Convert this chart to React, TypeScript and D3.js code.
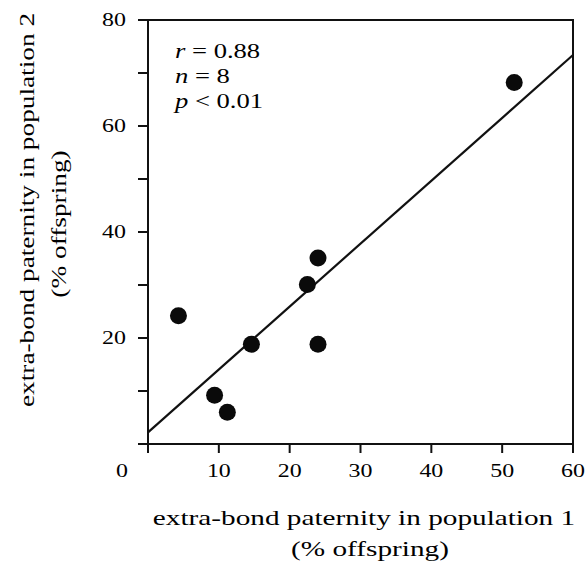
import React from 'react';
import * as d3 from 'd3';

// points
const pop1 = [4.3, 9.4, 11.2, 14.6, 22.5, 24.0, 24.0, 51.7];
const pop2 = [24.2, 9.2, 6.0, 18.8, 30.1, 35.1, 18.8, 68.2];

// fitted line (endpoints at x = 0 and x = 60)
const fitX = [0, 60];
const fitY = [2.2, 73.4];

const xTicks = [0, 10, 20, 30, 40, 50, 60];
const xTickLabels = ['10', '20', '30', '40', '50', '60'];
const yTicks = [0, 20, 40, 60, 80];
const yMinorTicks = [10, 30, 50, 70];
const yTickLabels = ['20', '40', '60', '80'];
const statLines = [
    { sym: 'r', rest: ' = 0.88' },
    { sym: 'n', rest: ' = 8' },
    { sym: 'p', rest: ' < 0.01' },
];

const width = 585;
const height = 569;
const left = 148;
const right = 573;
const top = 20;
const bottom = 444;
const font = '"Liberation Serif", "Times New Roman", serif';
const stretch = 1.33;

const App = () => {
    const x = d3.scaleLinear().domain([0, 60]).range([left, right]);
    const y = d3.scaleLinear().domain([0, 80]).range([bottom, top]);

    const line = d3
        .line<number>()
        .x((d, i) => x(fitX[i]))
        .y((d) => y(d));

    const label = (tx: number, ty: number, txt: string, size: number, anchor: string, key?: string, sx = stretch) => (
        <g key={key} transform={`translate(${tx},${ty}) scale(${sx},1)`}>
            <text fontFamily={font} fontSize={size} textAnchor={anchor} fill='#000'>
                {txt}
            </text>
        </g>
    );

    return (
        <svg
            width={width}
            height={height}
            style={{ position: 'absolute', left: 0, top: 0, background: '#fff' }}
        >
            {/* frame */}
            <rect x={left} y={top} width={right - left} height={bottom - top} fill='none' stroke='#111' strokeWidth={2} />

            {/* y ticks */}
            {yTicks.concat(yMinorTicks).map((t) => (
                <line key={'y' + t} x1={left - 10} x2={left} y1={y(t)} y2={y(t)} stroke='#111' strokeWidth={2} />
            ))}
            {yTickLabels.map((t) => label(left - 22, y(+t) + 6, t, 18, 'end', 'yl' + t))}

            {/* x ticks */}
            {xTicks.map((t) => (
                <line key={'x' + t} x1={x(t)} x2={x(t)} y1={bottom} y2={bottom + 9} stroke='#111' strokeWidth={2} />
            ))}
            {xTickLabels.map((t) => label(x(+t), 477, t, 18, 'middle', 'xl' + t))}
            {label(x(0) - 26, 477, '0', 18, 'middle')}

            {/* fit line */}
            <path d={line(fitY) || ''} fill='none' stroke='#111' strokeWidth={2.2} />

            {/* points */}
            {pop1.map((d, i) => (
                <circle key={i} cx={x(d)} cy={y(pop2[i])} r={8.5} fill='#0a0a0a' />
            ))}

            {/* stats */}
            {statLines.map((s, i) => (
                <g key={s.sym} transform={`translate(175,${58 + i * 25}) scale(${stretch},1)`}>
                    <text fontFamily={font} fontSize={20} fill='#000'>
                        <tspan fontStyle='italic'>{s.sym}</tspan>
                        {s.rest}
                    </text>
                </g>
            ))}

            {/* axis titles */}
            {label(364, 525, 'extra-bond paternity in population 1', 22, 'middle')}
            {label(370, 556, '(% offspring)', 22, 'middle')}
            <g transform='translate(34,210) rotate(-90)'>
                {label(0, 0, 'extra-bond paternity in population 2', 21, 'middle', undefined, 1.3)}
            </g>
            <g transform='translate(66,224) rotate(-90)'>
                {label(0, 0, '(% offspring)', 21, 'middle', undefined, 1.3)}
            </g>
        </svg>
    );
};

export default App;
